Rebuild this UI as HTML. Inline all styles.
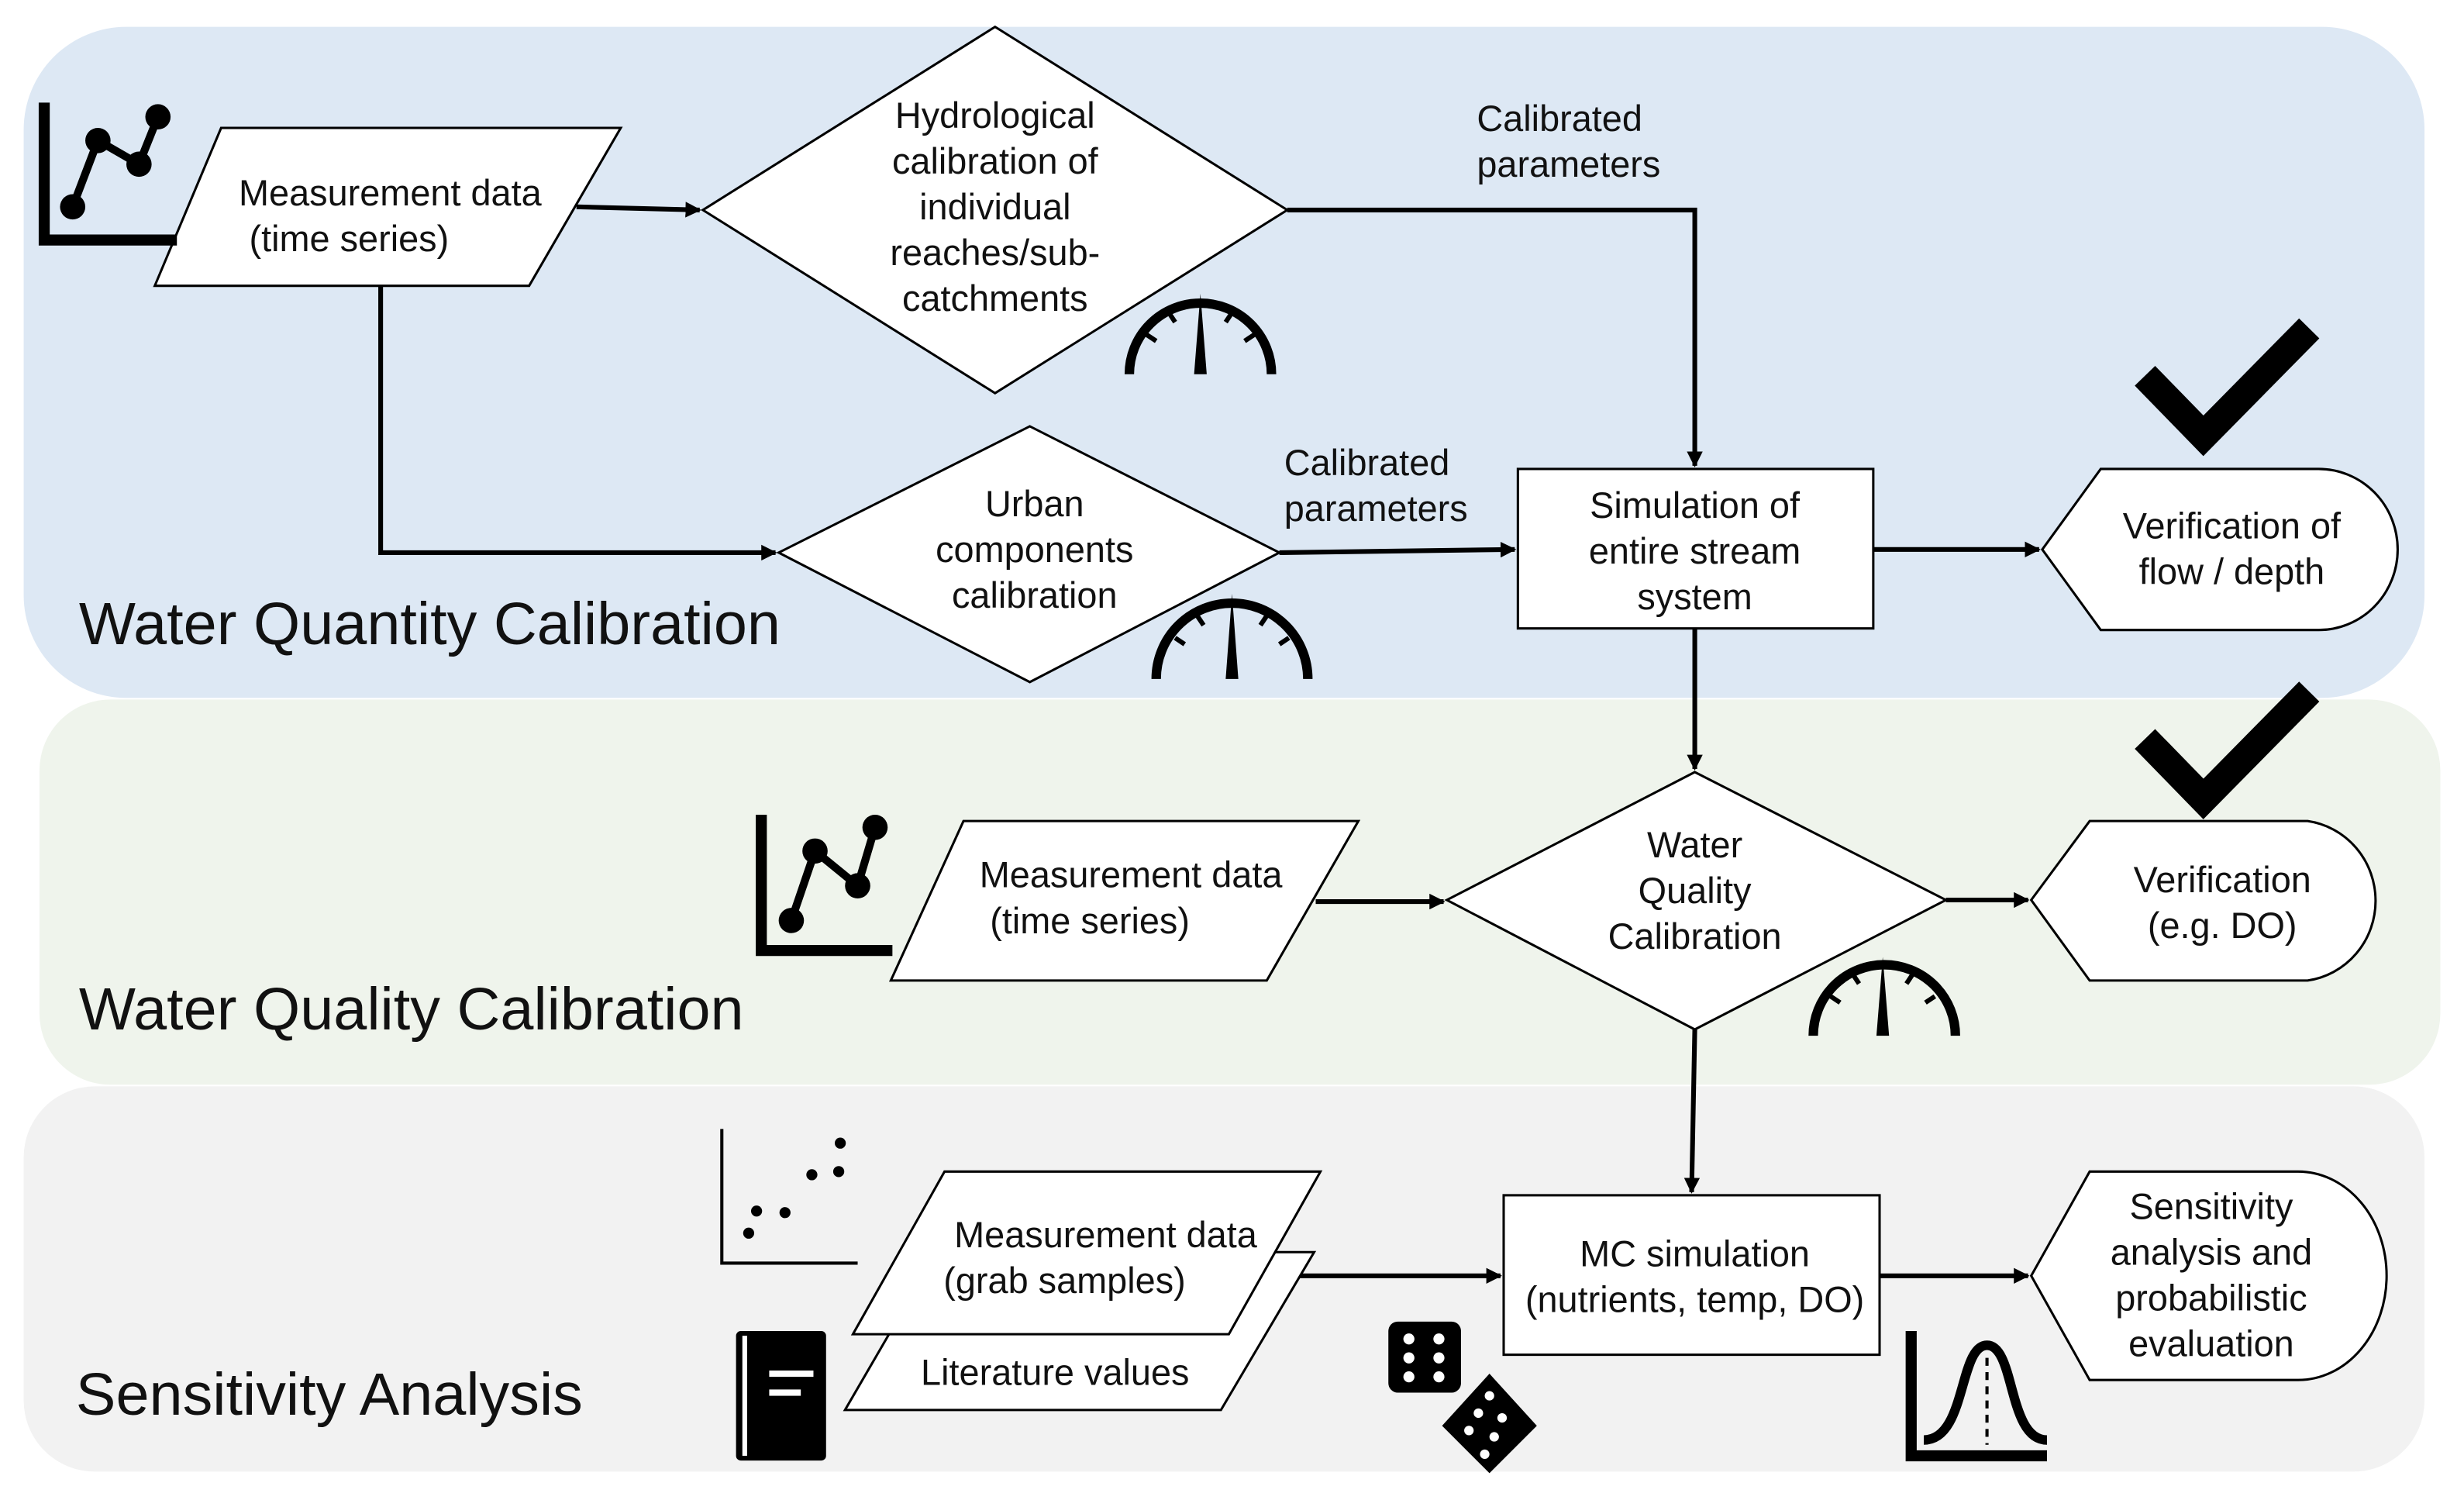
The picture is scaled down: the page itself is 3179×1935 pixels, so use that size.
<!DOCTYPE html>
<html><head><meta charset="utf-8"><style>
html,body{margin:0;padding:0;background:#fff;}
svg{display:block;}
text{font-family:"Liberation Sans",sans-serif;fill:#111;}
.n{font-size:23px;text-anchor:middle;}
.t{font-size:38px;}
</style></head><body>
<svg width="3179" height="1935" viewBox="0 0 1560 950" preserveAspectRatio="none" xmlns="http://www.w3.org/2000/svg">
<defs>
<marker id="a" markerWidth="10" markerHeight="10" refX="9" refY="5" orient="auto" markerUnits="userSpaceOnUse" viewBox="0 0 10 10">
<path d="M0,0 L10,5 L0,10 z" fill="#000"/></marker>
</defs>
<rect x="15" y="17" width="1520" height="425" rx="65" fill="#dde8f4"/>
<rect x="25" y="443" width="1520" height="244" rx="45" fill="#eff4ec"/>
<rect x="15" y="688" width="1520" height="244" rx="45" fill="#f2f2f2"/>
<text class="t" x="50" y="408">Water Quantity Calibration</text>
<text class="t" x="50" y="652">Water Quality Calibration</text>
<text class="t" x="48" y="896">Sensitivity Analysis</text>

<g stroke="#000" stroke-width="3" fill="none">
<polyline points="365,131 443,133" marker-end="url(#a)"/>
<polyline points="241,181 241,350 491,350" marker-end="url(#a)"/>
<polyline points="815,133 1073,133 1073,295" marker-end="url(#a)"/>
<polyline points="810,350 959,348" marker-end="url(#a)"/>
<polyline points="1186,348 1291,348" marker-end="url(#a)"/>
<polyline points="1073,398 1073,487" marker-end="url(#a)"/>
<polyline points="833,571 914,571" marker-end="url(#a)"/>
<polyline points="1232,570 1284,570" marker-end="url(#a)"/>
<polyline points="1073,652 1071,755" marker-end="url(#a)"/>
<polyline points="818,808 950,808" marker-end="url(#a)"/>
<polyline points="1190,808 1284,808" marker-end="url(#a)"/>
</g>

<g stroke="#000" stroke-width="1.5" fill="#fff">
<polygon points="140,81 393,81 335,181 98,181"/>
<polygon points="630,17 815,133 630,249 445,133"/>
<polygon points="652,270 810,350 652,432 493,350"/>
<rect x="961" y="297" width="225" height="101"/>
<path d="M1293,348 L1330,297 L1468,297 A50,51 0 0 1 1468,399 L1330,399 Z"/>
<polygon points="1073,489 1232,570 1073,652 916,570"/>
<polygon points="610,520 860,520 802,621 564,621"/>
<path d="M1286,570 L1323,520 L1461,520 A50,51 0 0 1 1461,621 L1323,621 Z"/>
<polygon points="593,793 832,793 773,893 535,893"/>
<polygon points="598,742 836,742 778,845 540,845"/>
<rect x="952" y="757" width="238" height="101"/>
<path d="M1286,808 L1323,742 L1455,742 A56,66 0 0 1 1455,874 L1323,874 Z"/>
</g>

<text class="n" x="247" y="130">Measurement data</text>
<text class="n" x="221" y="159">(time series)</text>
<text class="n" x="630" y="81">Hydrological</text>
<text class="n" x="630" y="110">calibration of</text>
<text class="n" x="630" y="139">individual</text>
<text class="n" x="630" y="168">reaches/sub-</text>
<text class="n" x="630" y="197">catchments</text>
<text class="n" x="655" y="327">Urban</text>
<text class="n" x="655" y="356">components</text>
<text class="n" x="655" y="385">calibration</text>
<text class="n" x="1073" y="328">Simulation of</text>
<text class="n" x="1073" y="357">entire stream</text>
<text class="n" x="1073" y="386">system</text>
<text class="n" x="1413" y="341">Verification of</text>
<text class="n" x="1413" y="370">flow / depth</text>
<text class="n" style="text-anchor:start" x="935" y="83">Calibrated</text>
<text class="n" style="text-anchor:start" x="935" y="112">parameters</text>
<text class="n" style="text-anchor:start" x="813" y="301">Calibrated</text>
<text class="n" style="text-anchor:start" x="813" y="330">parameters</text>
<text class="n" x="1073" y="543">Water</text>
<text class="n" x="1073" y="572">Quality</text>
<text class="n" x="1073" y="601">Calibration</text>
<text class="n" x="716" y="562">Measurement data</text>
<text class="n" x="690" y="591">(time series)</text>
<text class="n" x="1407" y="565">Verification</text>
<text class="n" x="1407" y="594">(e.g. DO)</text>
<text class="n" x="700" y="790">Measurement data</text>
<text class="n" x="674" y="819">(grab samples)</text>
<text class="n" x="668" y="877">Literature values</text>
<text class="n" x="1073" y="802">MC simulation</text>
<text class="n" x="1073" y="831">(nutrients, temp, DO)</text>
<text class="n" x="1400" y="772">Sensitivity</text>
<text class="n" x="1400" y="801">analysis and</text>
<text class="n" x="1400" y="830">probabilistic</text>
<text class="n" x="1400" y="859">evaluation</text>

<g stroke="#000" fill="none">
<polyline points="28,65 28,152 112,152" stroke-width="7"/>
<polyline points="46,131 62,89 88,104 100,74" stroke-width="5"/>
<polyline points="482,516 482,602 565,602" stroke-width="7"/>
<polyline points="501,583 516,539 543,561 554,524" stroke-width="5"/>
<polyline points="457,715 457,800 543,800" stroke-width="2"/>
<polyline points="1210,843 1210,922 1296,922" stroke-width="7"/>
<path d="M1218,912 C1245,912 1240,852 1258,852 C1276,852 1271,912 1296,912" stroke-width="6"/>
<line x1="1258" y1="860" x2="1258" y2="915" stroke-width="2" stroke-dasharray="5,4"/>
<polyline points="1358,238 1395,276 1462,208" stroke-width="18"/>
<polyline points="1358,468 1395,506 1462,438" stroke-width="18"/>
</g>
<g fill="#000">
<circle cx="46" cy="131" r="8"/><circle cx="62" cy="89" r="8"/><circle cx="88" cy="104" r="8"/><circle cx="100" cy="74" r="8"/>
<circle cx="501" cy="583" r="8"/><circle cx="516" cy="539" r="8"/><circle cx="543" cy="561" r="8"/><circle cx="554" cy="524" r="8"/>
<circle cx="474" cy="781" r="3.5"/><circle cx="479" cy="767" r="3.5"/><circle cx="497" cy="768" r="3.5"/><circle cx="514" cy="744" r="3.5"/><circle cx="531" cy="742" r="3.5"/><circle cx="532" cy="724" r="3.5"/>
<rect x="466" y="843" width="57" height="82" rx="3"/>
<rect x="879" y="837" width="46" height="45" rx="6"/>
<polygon points="943,870 973,903 943,933 913,903"/>
</g>
<g fill="#fff">
<rect x="470" y="846" width="3" height="76"/>
<rect x="487" y="868" width="28" height="4"/><rect x="487" y="880" width="20" height="4"/>
<circle cx="892" cy="848" r="3.5"/><circle cx="911" cy="848" r="3.5"/><circle cx="892" cy="860" r="3.5"/><circle cx="911" cy="860" r="3.5"/><circle cx="892" cy="872" r="3.5"/><circle cx="911" cy="872" r="3.5"/>
<circle cx="943" cy="884" r="3"/><circle cx="936" cy="895" r="3"/><circle cx="951" cy="898" r="3"/><circle cx="930" cy="906" r="3"/><circle cx="946" cy="910" r="3"/><circle cx="940" cy="921" r="3"/>
</g>
<g stroke="#000" fill="none" stroke-width="6">
<path d="M715,237 A45,45 0 0 1 805,237"/>
<path d="M732,430 A48,48 0 0 1 828,430"/>
<path d="M1148,656 A45,45 0 0 1 1238,656"/>
</g>
<g fill="#000">
<polygon points="756,237 760,186 764,237"/>
<polygon points="776,430 780,376 784,430"/>
<polygon points="1188,656 1192,606 1196,656"/>
</g>
<g stroke="#000" stroke-width="3">
<line x1="726" y1="212" x2="732" y2="216"/><line x1="740" y1="198" x2="744" y2="204"/><line x1="780" y1="198" x2="776" y2="204"/><line x1="794" y1="212" x2="788" y2="216"/>
<line x1="744" y1="404" x2="750" y2="408"/><line x1="758" y1="390" x2="762" y2="396"/><line x1="802" y1="390" x2="798" y2="396"/><line x1="816" y1="404" x2="810" y2="408"/>
<line x1="1159" y1="631" x2="1165" y2="635"/><line x1="1173" y1="617" x2="1177" y2="623"/><line x1="1211" y1="617" x2="1207" y2="623"/><line x1="1225" y1="631" x2="1219" y2="635"/>
</g>
</svg>
</body></html>
